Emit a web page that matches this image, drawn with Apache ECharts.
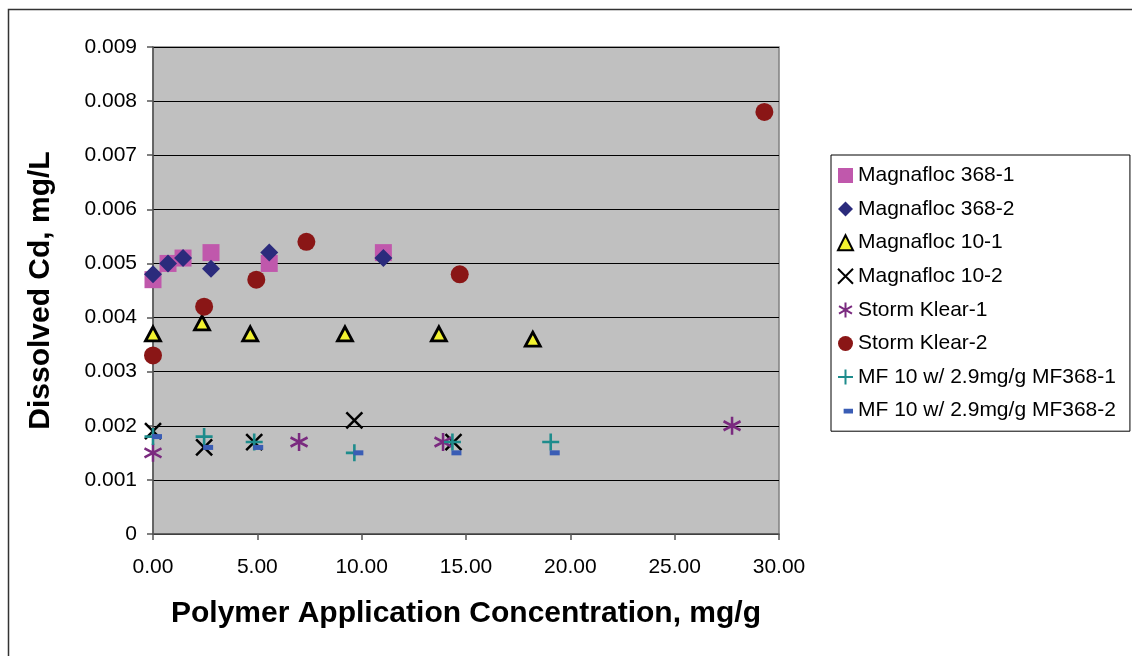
<!DOCTYPE html>
<html>
<head>
<meta charset="utf-8">
<script src="https://cdn.jsdelivr.net/npm/echarts@6/dist/echarts.min.js"></script>
<style>
html,body{margin:0;padding:0;background:#fff;}
#chart{width:1132px;height:656px;}
</style>
</head>
<body>
<div id="chart"></div>
<script>
// ---- Data (x = mg/g, y = mg/L) ----
const seriesNames = [
  "Magnafloc 368-1",
  "Magnafloc 368-2",
  "Magnafloc 10-1",
  "Magnafloc 10-2",
  "Storm Klear-1",
  "Storm Klear-2",
  "MF 10 w/ 2.9mg/g MF368-1",
  "MF 10 w/ 2.9mg/g MF368-2"
];
const mf368_1 = [[0,0.0047],[0.72,0.0050],[1.44,0.0051],[2.78,0.0052],[5.57,0.0050],[11.04,0.0052]];
const mf368_2 = [[0,0.0048],[0.72,0.0050],[1.44,0.0051],[2.78,0.0049],[5.57,0.0052],[11.04,0.0051]];
const mf10_1  = [[0,0.0037],[2.35,0.0039],[4.66,0.0037],[9.2,0.0037],[13.7,0.0037],[18.2,0.0036]];
const mf10_2  = [[0,0.0019],[2.45,0.0016],[4.85,0.0017],[9.65,0.0021],[14.4,0.0017]];
const sk_1    = [[0,0.0015],[7.0,0.0017],[13.9,0.0017],[27.75,0.0020]];
const sk_2    = [[0,0.0033],[2.45,0.0042],[4.95,0.0047],[7.35,0.0054],[14.7,0.0048],[29.3,0.0078]];
const combo_1 = [[0,0.0018],[2.45,0.0018],[4.85,0.0017],[9.65,0.0015],[14.35,0.0017],[19.06,0.0017]];
const combo_2 = [[0,0.0018],[2.45,0.0016],[4.85,0.0016],[9.65,0.0015],[14.35,0.0015],[19.06,0.0015]];
const xTicks = [0,5,10,15,20,25,30];
const yTicks = [0,0.001,0.002,0.003,0.004,0.005,0.006,0.007,0.008,0.009];

const FONT = "'Liberation Sans', Arial, sans-serif";
const X_PATH = 'path://M0,0L10,10M10,0L0,10';
const AST_PATH = 'path://M5,0L5,10M0.67,2.5L9.33,7.5M9.33,2.5L0.67,7.5';
const PLUS_PATH = 'path://M5,0L5,10M0,5L10,5';
const DASH_LEGEND = 'path://M0,0L0.01,0M15,15L15.01,15M6,5.5L16,5.5L16,10.5L6,10.5Z';

const chart = echarts.init(document.getElementById('chart'), null, {renderer:'canvas'});

const option = {
  backgroundColor: '#ffffff',
  animation: false,
  graphic: [{
    type: 'rect', left: 6, top: 7, silent: true,
    shape: {width: 1140, height: 670},
    style: {fill: 'none', stroke: '#333', lineWidth: 1.5},
    z: -10
  }],
  grid: {
    left: 153, right: 353, top: 47, bottom: 122,
    show: true, backgroundColor: '#C0C0C0', borderColor: '#808080', borderWidth: 1.5
  },
  legend: {
    orient: 'vertical', left: 831, top: 155,
    padding: [10, 14, 10, 6],
    itemGap: 12.6, itemWidth: 15, itemHeight: 15,
    backgroundColor: '#fff', borderColor: '#000', borderWidth: 1,
    textStyle: {fontFamily: FONT, fontSize: 21, color: '#000', lineHeight: 20},
    data: seriesNames.map((n, i) => i === 7 ? {name: n, icon: DASH_LEGEND} : {name: n})
  },
  xAxis: {
    type: 'value', min: 0, max: 30, interval: 5,
    name: 'Polymer Application Concentration, mg/g',
    nameLocation: 'middle', nameGap: 65,
    nameTextStyle: {fontFamily: FONT, fontSize: 30, fontWeight: 'bold', color: '#000'},
    axisLine: {show: true, onZero: false, lineStyle: {color: '#555', width: 1.5}},
    axisTick: {show: true, inside: false, length: 6, lineStyle: {color: '#555', width: 1.5}},
    axisLabel: {fontFamily: FONT, fontSize: 21, color: '#000', margin: 23,
      formatter: v => Number(v).toFixed(2)},
    splitLine: {show: false}
  },
  yAxis: {
    type: 'value', min: 0, max: 0.009, interval: 0.001,
    name: 'Dissolved Cd, mg/L',
    nameLocation: 'middle', nameGap: 97,
    nameTextStyle: {fontFamily: FONT, fontSize: 30, fontWeight: 'bold', color: '#000'},
    axisLine: {show: true, lineStyle: {color: '#555', width: 1.5}},
    axisTick: {show: true, inside: false, length: 6, lineStyle: {color: '#555', width: 1.5}},
    axisLabel: {fontFamily: FONT, fontSize: 21, color: '#000', margin: 16,
      formatter: v => (Math.abs(v) < 1e-9 ? '0' : Number(v).toFixed(3))},
    splitLine: {show: true, lineStyle: {color: '#000', width: 1}}
  },
  series: [
    {name: seriesNames[0], type: 'scatter', data: mf368_1, symbol: 'rect', symbolSize: 17,
      itemStyle: {color: '#C058AC', opacity: 1}},
    {name: seriesNames[1], type: 'scatter', data: mf368_2, symbol: 'diamond', symbolSize: 18,
      itemStyle: {color: '#2B2B7C', opacity: 1}},
    {name: seriesNames[2], type: 'scatter', data: mf10_1, symbol: 'triangle', symbolSize: [15, 14],
      itemStyle: {color: '#F2F230', borderColor: '#000', borderWidth: 2.8, opacity: 1}},
    {name: seriesNames[3], type: 'scatter', data: mf10_2, symbol: X_PATH, symbolSize: 16,
      itemStyle: {color: '#000', borderColor: '#000', borderWidth: 2.5, opacity: 1}},
    {name: seriesNames[4], type: 'scatter', data: sk_1, symbol: AST_PATH, symbolSize: [17, 18],
      itemStyle: {color: '#7A2A7F', borderColor: '#7A2A7F', borderWidth: 2.6, opacity: 1}},
    {name: seriesNames[5], type: 'scatter', data: sk_2, symbol: 'circle', symbolSize: 18,
      itemStyle: {color: '#8A1616', opacity: 1}},
    {name: seriesNames[6], type: 'scatter', data: combo_1, symbol: PLUS_PATH, symbolSize: 17,
      itemStyle: {color: '#1E8C8C', borderColor: '#1E8C8C', borderWidth: 2.6, opacity: 1}},
    {name: seriesNames[7], type: 'scatter', data: combo_2, symbol: 'rect', symbolSize: [10, 5],
      symbolOffset: [4, 0],
      itemStyle: {color: '#3A5DB5', opacity: 1}}
  ]
};
chart.setOption(option);
</script>
</body>
</html>
